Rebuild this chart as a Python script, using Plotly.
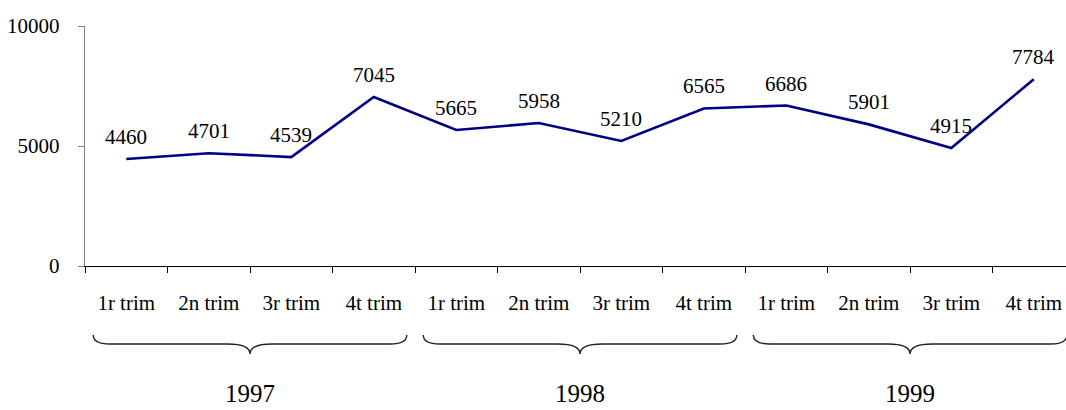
import plotly.graph_objects as go

quarters = ["1r trim", "2n trim", "3r trim", "4t trim"] * 3
years = ["1997", "1998", "1999"]
values = [4460, 4701, 4539, 7045, 5665, 5958, 5210, 6565, 6686, 5901, 4915, 7784]
y_ticks = [0, 5000, 10000]

FONT = "Liberation Serif"
x_idx = list(range(len(values)))

fig = go.Figure()
fig.add_trace(go.Scatter(
    x=x_idx, y=values, mode="lines",
    line=dict(color="#000080", width=2.6),
    hoverinfo="skip", showlegend=False,
))

annotations = []
for i, v in zip(x_idx, values):
    annotations.append(dict(
        x=i, y=v, xref="x", yref="y", text=str(v), showarrow=False,
        yshift=22, yanchor="middle", xanchor="center",
        font=dict(family=FONT, size=21, color="black"),
    ))

shapes = []
n_per = 4
yt, ym, ytip = -0.2875, -0.325, -0.367
inset, r, r2 = 0.1, 0.2, 0.27
for g, yr in enumerate(years):
    x0 = g * n_per - 0.5 + inset
    x1 = (g + 1) * n_per - 0.5 - inset
    xc = (x0 + x1) / 2
    path = (f"M {x0},{yt} Q {x0},{ym} {x0 + r},{ym} L {xc - r2},{ym} "
            f"Q {xc},{ym} {xc},{ytip} Q {xc},{ym} {xc + r2},{ym} "
            f"L {x1 - r},{ym} Q {x1},{ym} {x1},{yt}")
    shapes.append(dict(type="path", path=path, xref="x", yref="paper",
                       line=dict(color="#222222", width=1.4)))
    annotations.append(dict(
        x=xc, y=-0.53, xref="x", yref="paper", text=yr, showarrow=False,
        yanchor="middle", xanchor="center", borderpad=0,
        font=dict(family=FONT, size=25, color="black"),
    ))

fig.update_layout(
    width=1066, height=410,
    margin=dict(l=85, r=0, t=26, b=144),
    paper_bgcolor="white", plot_bgcolor="white",
    font=dict(family=FONT, size=21, color="black"),
    annotations=annotations, shapes=shapes,
    xaxis=dict(
        range=[-0.5, 11.39], tickmode="array", tickvals=x_idx, ticktext=quarters,
        ticks="", showgrid=False, zeroline=False,
        showline=True, linecolor="black", linewidth=1.2,
        ticklabelstandoff=18,
        tickfont=dict(family=FONT, size=21, color="black"),
        minor=dict(tick0=0.5, dtick=1, ticks="outside", ticklen=6,
                   tickcolor="black", tickwidth=1.2, showgrid=False),
    ),
    yaxis=dict(
        range=[0, 10000], tickmode="array", tickvals=y_ticks,
        ticktext=[str(t) for t in y_ticks],
        ticks="outside", ticklen=6, tickcolor="#808080", tickwidth=1.2,
        showgrid=False, zeroline=False,
        showline=True, linecolor="#808080", linewidth=1.4,
        ticklabelstandoff=14,
        tickfont=dict(family=FONT, size=21, color="black"),
    ),
)

fig.write_html(
    "out.html",
    config={"displayModeBar": False},
    post_script="document.body.style.margin='0';document.body.style.overflow='hidden';",
)
